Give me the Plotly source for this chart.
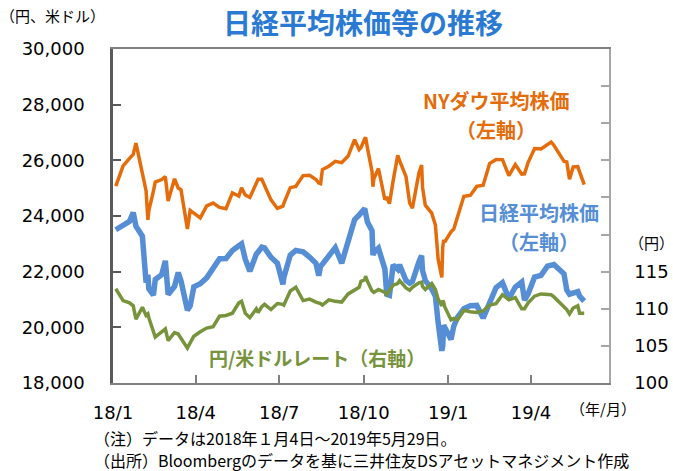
import plotly.graph_objects as go

dates = [
    "2018-01-04", "2018-01-12", "2018-01-19", "2018-01-23", "2018-01-26", "2018-02-02", "2018-02-06",
    "2018-02-08", "2018-02-09", "2018-02-14", "2018-02-16", "2018-02-23", "2018-02-27", "2018-03-02",
    "2018-03-09", "2018-03-13", "2018-03-16", "2018-03-23", "2018-03-26", "2018-03-30", "2018-04-06",
    "2018-04-13", "2018-04-20", "2018-04-27", "2018-05-04", "2018-05-11", "2018-05-18", "2018-05-21",
    "2018-05-25", "2018-05-30", "2018-06-06", "2018-06-08", "2018-06-12", "2018-06-15", "2018-06-22",
    "2018-06-29", "2018-07-05", "2018-07-06", "2018-07-13", "2018-07-19", "2018-07-27", "2018-08-03",
    "2018-08-10", "2018-08-13", "2018-08-15", "2018-08-17", "2018-08-24", "2018-08-31", "2018-09-07",
    "2018-09-14", "2018-09-21", "2018-09-26", "2018-09-28", "2018-10-02", "2018-10-03", "2018-10-05",
    "2018-10-10", "2018-10-11", "2018-10-12", "2018-10-17", "2018-10-24", "2018-10-26", "2018-10-29",
    "2018-11-02", "2018-11-07", "2018-11-09", "2018-11-16", "2018-11-20", "2018-11-23", "2018-11-30",
    "2018-12-03", "2018-12-04", "2018-12-07", "2018-12-14", "2018-12-18", "2018-12-21", "2018-12-25",
    "2018-12-26", "2018-12-27", "2018-12-28", "2019-01-04", "2019-01-07", "2019-01-11", "2019-01-18",
    "2019-01-25", "2019-02-01", "2019-02-08", "2019-02-15", "2019-02-22", "2019-03-01", "2019-03-08",
    "2019-03-15", "2019-03-22", "2019-03-25", "2019-03-29", "2019-04-05", "2019-04-12", "2019-04-19",
    "2019-04-23", "2019-04-26", "2019-05-07", "2019-05-10", "2019-05-13", "2019-05-17", "2019-05-22",
    "2019-05-24", "2019-05-29",
]

nikkei = [
    23506, 23653, 23808, 24124, 23631, 23274, 21610,
    21891, 21382, 21154, 21720, 21892, 22389, 21181,
    21469, 21968, 21676, 20617, 20766, 21454, 21567,
    21778, 22162, 22468, 22472, 22758, 22930, 23002,
    22450, 22018, 22626, 22694, 22878, 22851, 22516,
    22304, 21546, 21788, 22597, 22764, 22712, 22525,
    22298, 21858, 22204, 22270, 22601, 22865, 22307,
    23094, 23870, 24034, 24120, 24270, 24110, 23784,
    23470, 22590, 22694, 22841, 22091, 21184, 21149,
    22243, 22085, 22250, 21680, 21583, 21646, 22351,
    22574, 22036, 21679, 21374, 21116, 20166, 19155,
    19328, 20077, 20015, 19562, 20038, 20360, 20666,
    20774, 20788, 20333, 20900, 21426, 21602, 21025,
    21450, 21627, 20977, 21205, 21807, 21870, 22200,
    22260, 22258, 21923, 21345, 21191, 21250, 21283,
    21117, 20942,
]

dow = [
    25075, 25803, 26071, 26210, 26616, 25521, 24912,
    23860, 24191, 24893, 25219, 25310, 25410, 24538,
    25336, 25007, 24946, 23533, 24202, 24103, 23933,
    24360, 24463, 24311, 24263, 24831, 24715, 25013,
    24753, 24667, 25146, 25317, 25320, 25090, 24580,
    24271, 24356, 24456, 25019, 25065, 25451, 25463,
    25313, 25187, 25162, 25669, 25790, 25965, 25917,
    26155, 26744, 26385, 26458, 26773, 26828, 26447,
    25599, 25052, 25340, 25706, 24583, 24688, 24443,
    25270, 26180, 25989, 25413, 24465, 24285, 25538,
    25826, 25027, 24389, 24101, 23675, 22445, 21792,
    22878, 23138, 23062, 23433, 23531, 23996, 24706,
    24737, 25064, 25106, 25883, 26031, 26026, 25450,
    25848, 25502, 25516, 25928, 26424, 26412, 26559,
    26656, 26543, 25965, 25942, 25324, 25764, 25776,
    25585, 25126,
]

usdjpy = [
    112.7, 111.1, 110.8, 110.4, 108.6, 110.2, 109.1,
    109.3, 108.8, 107.0, 106.2, 106.9, 107.3, 105.7,
    106.8, 106.6, 106.0, 104.7, 105.4, 106.3, 106.9,
    107.4, 107.6, 109.0, 109.1, 109.4, 110.8, 111.0,
    109.4, 108.8, 110.0, 109.5, 110.3, 110.6, 109.9,
    110.7, 110.6, 110.5, 112.4, 112.9, 111.1, 111.3,
    110.9, 110.8, 110.7, 110.5, 111.2, 111.0, 110.9,
    112.0, 112.6, 112.9, 113.7, 113.9, 114.4, 113.7,
    112.4, 112.2, 112.2, 112.6, 112.2, 111.9, 112.4,
    113.2, 113.4, 113.8, 112.8, 112.5, 112.9, 113.5,
    113.6, 113.0, 112.6, 113.4, 112.6, 111.3, 110.4,
    111.1, 110.9, 110.3, 108.5, 108.7, 108.5, 109.8,
    109.6, 109.5, 109.7, 110.5, 110.7, 111.9, 111.2,
    111.5, 110.0, 110.0, 110.8, 111.7, 112.0, 111.9,
    111.9, 111.6, 110.3, 109.9, 109.3, 110.1, 110.4,
    109.4, 109.4,
]

x_tick_dates = ["2018-01-01", "2018-04-01", "2018-07-01", "2018-10-01", "2019-01-01", "2019-04-01"]
x_tick_labels = ["18/1", "18/4", "18/7", "18/10", "19/1", "19/4"]
left_ticks = [18000, 20000, 22000, 24000, 26000, 28000, 30000]
left_labels = ["18,000", "20,000", "22,000", "24,000", "26,000", "28,000", "30,000"]
right_ticks = [100, 105, 110, 115, 120, 125, 130, 135, 140, 145]
right_labels = ["100", "105", "110", "115", "", "", "", "", "", ""]

ORANGE = "#E46C0A"
BLUE = "#558ED5"
GREEN = "#77933C"
TITLE_BLUE = "#2A7AD4"
JP = "Noto Sans CJK JP"
NUM = "DejaVu Sans"

fig = go.Figure()
fig.add_trace(go.Scatter(x=dates, y=dow, mode="lines", line=dict(color=ORANGE, width=3.5),
                         name="NYダウ平均株価", yaxis="y"))
fig.add_trace(go.Scatter(x=dates, y=nikkei, mode="lines", line=dict(color=BLUE, width=5.5),
                         name="日経平均株価", yaxis="y"))
fig.add_trace(go.Scatter(x=dates, y=usdjpy, mode="lines", line=dict(color=GREEN, width=3.5),
                         name="円/米ドルレート", yaxis="y2"))

fig.update_layout(
    width=673, height=471,
    margin=dict(l=113, r=64, t=49, b=88, autoexpand=False),
    paper_bgcolor="white", plot_bgcolor="white",
    showlegend=False,
    xaxis=dict(
        type="date", range=["2018-01-01", "2019-06-25"],
        tickvals=x_tick_dates, ticktext=x_tick_labels,
        ticks="inside", ticklen=8, tickcolor="#808080", tickwidth=1.5,
        showline=True, linecolor="#808080", linewidth=2, mirror=True,
        showgrid=False, zeroline=False, automargin=False,
        tickfont=dict(family=NUM, size=18, color="#000000"),
        ticklabelstandoff=12,
    ),
    yaxis=dict(
        range=[18000, 30000], tickvals=left_ticks, ticktext=left_labels,
        ticks="inside", ticklen=8, tickcolor="#595959", tickwidth=1.5,
        showline=True, linecolor="#595959", linewidth=2.5,
        showgrid=False, zeroline=False, automargin=False,
        tickfont=dict(family=NUM, size=18, color="#000000"),
        ticklabelstandoff=22,
    ),
    yaxis2=dict(
        range=[100, 145], tickvals=right_ticks, ticktext=right_labels,
        overlaying="y", side="right",
        ticks="inside", ticklen=8, tickcolor="#a6a6a6", tickwidth=1.5,
        showline=True, linecolor="#a6a6a6", linewidth=1.5,
        showgrid=False, zeroline=False, automargin=False,
        tickfont=dict(family=NUM, size=18, color="#000000"),
        ticklabelstandoff=20,
    ),
)

pl, pr, pt, pb = 113, 609, 49, 383


def add_text(text, px, py, font, anchor="center"):
    fig.add_annotation(text=text, x=(px - pl) / (pr - pl), y=(pb - py) / (pb - pt),
                       xref="paper", yref="paper", xanchor=anchor, yanchor="middle",
                       showarrow=False, font=font)


add_text("<b>日経平均株価等の推移</b>", 363, 22, dict(family=JP, size=28, color=TITLE_BLUE))
add_text("（円、米ドル）", 52, 16, dict(family=JP, size=15, color="#000000"))
add_text("（円）", 651, 242, dict(family=JP, size=15, color="#000000"))
add_text("（年/月）", 603, 408, dict(family=JP, size=15, color="#000000"))
add_text("<b>NYダウ平均株価</b>", 496, 100, dict(family=JP, size=20, color=ORANGE))
add_text("<b>（左軸）</b>", 496, 129, dict(family=JP, size=20, color=ORANGE))
add_text("<b>日経平均株価</b>", 539, 212, dict(family=JP, size=20, color=BLUE))
add_text("<b>（左軸）</b>", 539, 241, dict(family=JP, size=20, color=BLUE))
add_text("<b>円/米ドルレート（右軸）</b>", 317, 357, dict(family=JP, size=19, color=GREEN))
add_text("（注）データは2018年１月4日～2019年5月29日。", 92, 438,
         dict(family=JP, size=16, color="#000000"), anchor="left")
add_text("（出所）Bloombergのデータを基に三井住友DSアセットマネジメント作成", 92, 460,
         dict(family=JP, size=16, color="#000000"), anchor="left")

fig.write_html("out.html", config={"displayModeBar": False},
               post_script="document.body.style.margin='0';document.body.style.overflow='hidden';")
